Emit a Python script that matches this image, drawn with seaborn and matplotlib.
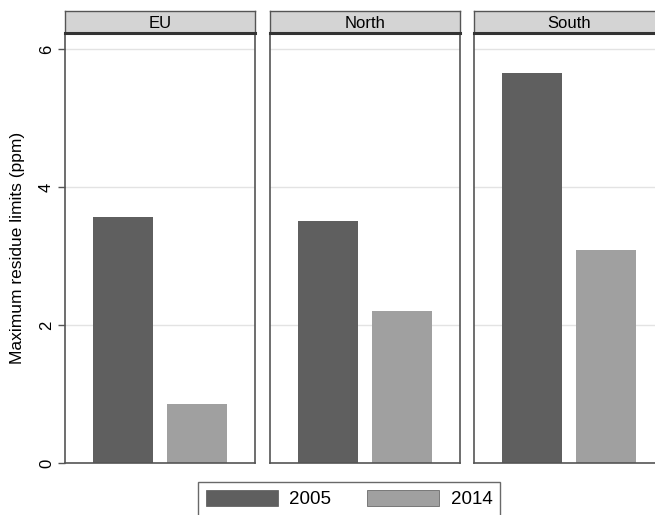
import matplotlib
matplotlib.use("Agg")
import matplotlib.pyplot as plt
import seaborn as sns
import pandas as pd
from matplotlib.patches import Patch

regions = ["EU", "North", "South"]
years = ["2005", "2014"]
values_2005 = [3.57, 3.51, 5.65]
values_2014 = [0.86, 2.20, 3.08]
yticks = [0, 2, 4, 6]
ylabel = "Maximum residue limits (ppm)"

colors = {"2005": "#5f5f5f", "2014": "#a0a0a0"}

sns.set_theme(style="white")
plt.rcParams['font.family'] = ['Liberation Sans', 'DejaVu Sans']
plt.rcParams['text.color'] = 'black'
plt.rcParams['axes.labelcolor'] = 'black'
plt.rcParams['ytick.labelcolor'] = 'black'

rows = []
for r, a, b in zip(regions, values_2005, values_2014):
    rows.append({"region": r, "year": "2005", "value": a})
    rows.append({"region": r, "year": "2014", "value": b})
df = pd.DataFrame(rows)

W, H = 655, 515
fig = plt.figure(figsize=(W / 100, H / 100), dpi=100)

panel_left = [65, 270, 474]
panel_w = 190
plot_top, plot_bot = 33, 463
strip_top = 11
ymax = (plot_bot - plot_top) / ((plot_bot - 49) / 6)

frame_col = "#555555"
for i, reg in enumerate(regions):
    ax = fig.add_axes([panel_left[i] / W, 1 - plot_bot / H, panel_w / W, (plot_bot - plot_top) / H])
    sub = df[df.region == reg]
    sns.barplot(data=sub, x="year", y="value", hue="year", palette=colors,
                order=years, hue_order=years, width=0.81, dodge=False,
                legend=False, ax=ax, saturation=1, edgecolor="none", linewidth=0)
    ax.set_xlim(-0.784, 1.784)
    ax.set_ylim(0, ymax)
    ax.set_yticks(yticks)
    ax.yaxis.grid(True, color="#e3e3e3", linewidth=1)
    ax.set_axisbelow(True)
    ax.set_xticks([])
    ax.set_xlabel("")
    ax.set_ylabel("")
    for s in ax.spines.values():
        s.set_color(frame_col)
        s.set_linewidth(1.2)
    if i == 0:
        ax.set_yticklabels([str(t) for t in yticks], rotation=90, va="center", fontsize=12)
        ax.tick_params(axis="y", length=5, width=1, color=frame_col, pad=3, left=True)
        ax.set_ylabel(ylabel, fontsize=12.5, labelpad=10)
    else:
        ax.set_yticklabels([])
        ax.tick_params(axis="y", length=0)
    # strip
    sax = fig.add_axes([panel_left[i] / W, 1 - plot_top / H, panel_w / W, (plot_top - strip_top) / H])
    sax.set_facecolor("#d4d4d4")
    sax.set_xticks([]); sax.set_yticks([])
    for s in sax.spines.values():
        s.set_color(frame_col)
        s.set_linewidth(1.0)
    sax.spines["bottom"].set_linewidth(2.2)
    sax.spines["bottom"].set_color("#333333")
    sax.text(0.5, 0.45, reg, ha="center", va="center", fontsize=12, transform=sax.transAxes)

handles = [Patch(facecolor=colors[y], edgecolor="#555555", linewidth=0.5, label=y) for y in years]
leg = fig.legend(handles=handles, loc="upper left", bbox_to_anchor=(198 / W, 1 - 482 / H),
                 ncol=2, frameon=True, fontsize=13.5, handlelength=3.84, handleheight=1.0,
                 columnspacing=1.9, handletextpad=0.64, borderpad=0.4, borderaxespad=0,
                 fancybox=False)
leg.get_frame().set_edgecolor("#444444")
leg.get_frame().set_linewidth(1.0)

fig.savefig("out.png", dpi=100)
